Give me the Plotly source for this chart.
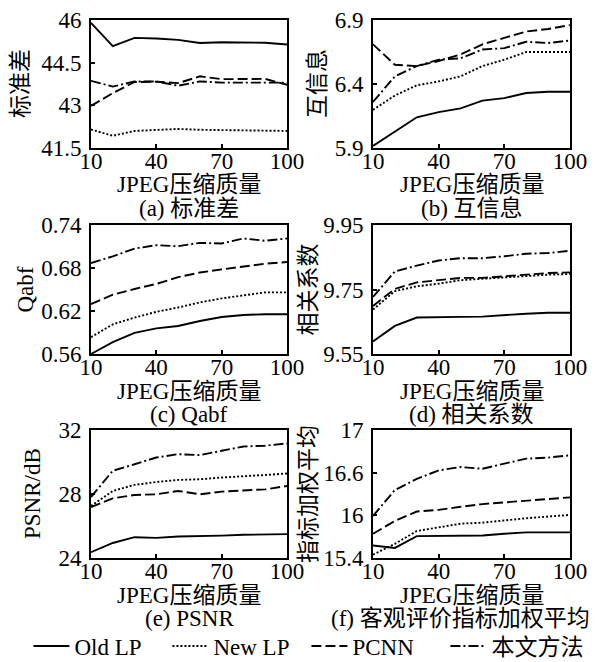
import plotly.graph_objects as go

W, H = 595, 662
quality = [10, 20, 30, 40, 50, 60, 70, 80, 90, 100]
series_names = ["Old LP", "New LP", "PCNN", "本文方法"]

# (a) 标准差
std_old = [45.90, 45.08, 45.37, 45.35, 45.30, 45.19, 45.22, 45.22, 45.20, 45.14]
std_new = [42.15, 41.93, 42.10, 42.13, 42.17, 42.14, 42.13, 42.12, 42.12, 42.10]
std_pcnn = [42.98, 43.43, 43.82, 43.83, 43.78, 44.02, 43.92, 43.92, 43.93, 43.72]
std_ours = [43.86, 43.66, 43.84, 43.84, 43.69, 43.84, 43.80, 43.80, 43.80, 43.80]
# (b) 互信息
mi_old = [5.916, 6.03, 6.14, 6.18, 6.21, 6.27, 6.29, 6.33, 6.34, 6.34]
mi_new = [6.198, 6.31, 6.39, 6.42, 6.46, 6.54, 6.59, 6.65, 6.65, 6.65]
mi_pcnn = [6.71, 6.55, 6.54, 6.58, 6.63, 6.71, 6.76, 6.81, 6.83, 6.86]
mi_ours = [6.26, 6.46, 6.54, 6.59, 6.60, 6.67, 6.68, 6.73, 6.72, 6.74]
# (c) Qabf
q_old = [0.560, 0.5765, 0.5896, 0.5957, 0.599, 0.606, 0.6117, 0.6145, 0.6155, 0.6155]
q_new = [0.5835, 0.6014, 0.6108, 0.6188, 0.6249, 0.632, 0.6376, 0.6423, 0.646, 0.646]
q_pcnn = [0.6296, 0.6427, 0.6507, 0.6578, 0.6672, 0.6737, 0.678, 0.6822, 0.686, 0.6883]
q_ours = [0.6869, 0.6963, 0.7071, 0.7118, 0.7104, 0.7151, 0.7142, 0.7212, 0.718, 0.7212]
# (d) 相关系数
cc_old = [9.589, 9.637, 9.663, 9.663, 9.665, 9.666, 9.671, 9.675, 9.678, 9.678]
cc_new = [9.688, 9.745, 9.760, 9.768, 9.779, 9.783, 9.788, 9.793, 9.796, 9.798]
cc_pcnn = [9.699, 9.752, 9.772, 9.779, 9.786, 9.786, 9.791, 9.796, 9.801, 9.803]
cc_ours = [9.727, 9.806, 9.824, 9.840, 9.847, 9.847, 9.853, 9.861, 9.863, 9.870]
# (e) PSNR
ps_old = [24.36, 24.94, 25.30, 25.26, 25.34, 25.36, 25.40, 25.45, 25.49, 25.49]
ps_new = [27.25, 28.19, 28.57, 28.75, 28.88, 28.92, 29.03, 29.13, 29.19, 29.28]
ps_pcnn = [27.18, 27.73, 27.94, 27.98, 28.19, 27.98, 28.15, 28.23, 28.29, 28.50]
ps_ours = [27.81, 29.45, 29.86, 30.28, 30.49, 30.43, 30.70, 30.97, 31.02, 31.16]
# (f) 客观评价指标加权平均 (axis drawn linear in pixel units)
wa_old = [15.556, 15.526, 15.674, 15.674, 15.682, 15.682, 15.703, 15.72, 15.72, 15.72]
wa_new = [15.442, 15.577, 15.737, 15.779, 15.829, 15.842, 15.872, 15.897, 15.918, 15.939]
wa_pcnn = [15.703, 15.863, 15.981, 16.002, 16.04, 16.074, 16.095, 16.116, 16.145, 16.158]
wa_ours = [15.926, 16.25, 16.389, 16.495, 16.537, 16.516, 16.579, 16.642, 16.655, 16.684]

x_ticks = [10, 40, 70, 100]
y_ticks_a = ["41.5", "43", "44.5", "46"]
y_ticks_b = ["5.9", "6.4", "6.9"]
y_ticks_c = ["0.56", "0.62", "0.68", "0.74"]
y_ticks_d = ["9.55", "9.75", "9.95"]
y_ticks_e = ["24", "28", "32"]
y_ticks_f = ["15.4", "16", "16.6", "17"]

y_titles = ["标准差", "互信息", "Qabf", "相关系数", "PSNR/dB", "指标加权平均"]
captions = ["(a) 标准差", "(b) 互信息", "(c) Qabf", "(d) 相关系数", "(e) PSNR", "(f) 客观评价指标加权平均"]
x_title = "JPEG压缩质量"

panels = [
    ([std_old, std_new, std_pcnn, std_ours], y_ticks_a),
    ([mi_old, mi_new, mi_pcnn, mi_ours], y_ticks_b),
    ([q_old, q_new, q_pcnn, q_ours], y_ticks_c),
    ([cc_old, cc_new, cc_pcnn, cc_ours], y_ticks_d),
    ([ps_old, ps_new, ps_pcnn, ps_ours], y_ticks_e),
    ([wa_old, wa_new, wa_pcnn, wa_ours], y_ticks_f),
]

FONT = "Liberation Serif, Noto Sans CJK SC, serif"
FS = 23
dashes = ["solid", "2px,2px", "10px,4px", "10px,3px,2px,3px"]

# pixel layout
col_x = [(91, 287), (373, 570)]
row_y = [(20, 148), (225, 354), (430, 558)]
ytitle_px = [20, 317, 25, 308, 32, 308]

fig = go.Figure()
layout = dict(
    width=W, height=H, margin=dict(l=0, r=0, t=0, b=0, autoexpand=False),
    paper_bgcolor="white", plot_bgcolor="white",
    font=dict(family=FONT, size=FS, color="black"),
    showlegend=True,
    legend=dict(orientation="h", x=0.515, xanchor="center", y=1 - 646 / H, yanchor="middle",
                font=dict(size=FS, family=FONT), entrywidth=88, entrywidthmode="pixels",
                itemwidth=36, tracegroupgap=0, bgcolor="rgba(0,0,0,0)"),
)
annotations = []
for i, (vals, yt) in enumerate(panels):
    r, c = divmod(i, 2)
    x0, x1 = col_x[c]
    ytop, ybot = row_y[r]
    k = "" if i == 0 else str(i + 1)
    nums = [float(t) for t in yt]
    if i == 5:
        lo, hi = nums[0], nums[-1]
        tv = [lo + (hi - lo) * j / (len(nums) - 1) for j in range(len(nums))]
    else:
        tv = nums
    layout["xaxis" + k] = dict(
        domain=[x0 / W, x1 / W], anchor="y" + k, range=[10, 100], automargin=False,
        tickvals=x_ticks, ticktext=[str(v) for v in x_ticks],
        ticks="inside", ticklen=4, tickwidth=1.5, tickcolor="black",
        showline=True, linecolor="black", linewidth=2, mirror=True,
        showgrid=False, zeroline=False, tickfont=dict(size=FS, family=FONT), ticklabelstandoff=-9,
    )
    layout["yaxis" + k] = dict(
        domain=[1 - ybot / H, 1 - ytop / H], anchor="x" + k, range=[tv[0], tv[-1]], automargin=False,
        tickvals=tv, ticktext=yt,
        ticks="inside", ticklen=4, tickwidth=1.5, tickcolor="black",
        showline=True, linecolor="black", linewidth=2, mirror=True,
        showgrid=False, zeroline=False, tickfont=dict(size=FS, family=FONT), ticklabelstandoff=3,
    )
    for s, (name, v) in enumerate(zip(series_names, vals)):
        fig.add_trace(go.Scatter(
            x=quality, y=v, mode="lines", name=name, showlegend=(i == 0),
            xaxis="x" + k, yaxis="y" + k,
            line=dict(color="black", width=1.9, dash=dashes[s]),
        ))
    cx = (x0 + x1) / 2
    annotations.append(dict(text=x_title, xref="paper", yref="paper", x=cx / W, y=1 - (ybot + 37) / H,
                            xanchor="center", yanchor="middle", showarrow=False, font=dict(size=FS)))
    capx = cx if i != 5 else 460
    annotations.append(dict(text=captions[i], xref="paper", yref="paper", x=capx / W, y=1 - (ybot + 60) / H,
                            xanchor="center", yanchor="middle", showarrow=False, font=dict(size=FS)))
    annotations.append(dict(text=y_titles[i], xref="paper", yref="paper", x=ytitle_px[i] / W,
                            y=1 - (ytop + ybot) / 2 / H, xanchor="center", yanchor="middle",
                            textangle=-90, showarrow=False, font=dict(size=FS)))
layout["annotations"] = annotations
fig.update_layout(**layout)
fig.write_html("out.html", config={"displayModeBar": False},
               post_script="document.body.style.margin='0';document.body.style.overflow='hidden';")
